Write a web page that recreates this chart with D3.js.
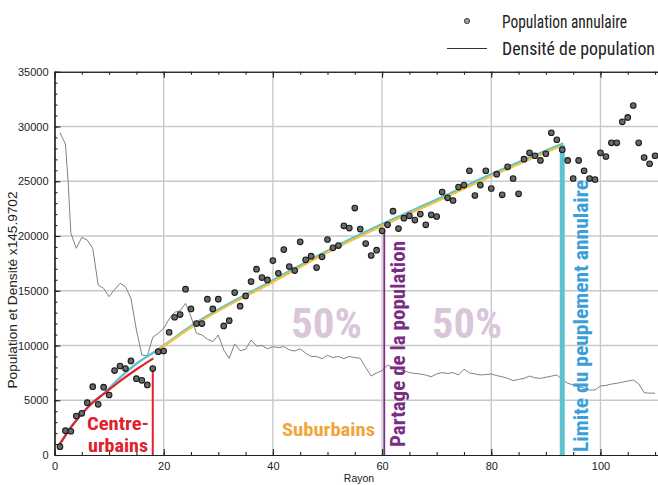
<!DOCTYPE html>
<html><head><meta charset="utf-8">
<script src="https://cdn.jsdelivr.net/npm/d3@7"></script>
<style>
body{margin:0;background:#fff;}
svg{display:block;}
</style>
</head><body>
<svg id="chart" width="658" height="485"></svg>
<script>
// ---------- DATA ----------
const popX = d3.range(1, 111);
const popV = [760,2220,2170,3560,3810,4780,6240,4630,6190,5480,
7710,8130,7890,8590,6970,6820,6400,7890,9440,9500,
11210,12580,12820,15140,13340,12000,12000,14230,13340,14230,
11790,12270,14830,13590,14530,15840,16970,16200,15990,17760,
16600,18760,17210,16840,19470,17820,18160,17120,18100,19680,
18920,19130,20930,20720,22550,20630,19310,18220,18710,20470,
21020,22270,20680,21630,21840,21450,22000,21020,21930,21780,
24010,23490,23240,24470,24650,25960,23700,24650,25960,24340,
25650,23760,26320,25250,23850,27020,27600,27330,26900,27510,
29430,28790,27880,26900,25250,26900,25960,25250,25160,27600,
27260,28510,28510,30430,30830,31920,28510,27170,26600,27330];

const densX = [1,2,2.5,3,4,5,6,7,8,9,10,11,12,13,14,15,16,17,18,19,20,21,22,23,24,25,26,27,28,29,30,
31,32,33,34,35,36,37,38,39,40,41,42,43,44,45,46,47,48,49,50,51,52,53,54,55,56,57,58,59,60,
61,62,63,64,65,66,67,68,69,70,71,72,73,74,75,76,77,78,79,80,81,82,83,84,85,86,87,88,89,90,
91,92,93,94,95,96,97,98,99,100,101,102,103,104,105,106,107,108,109,110];
const densV = [29440,28400,24960,20250,18880,19880,19630,18880,15530,15220,14460,15100,15680,15370,14310,11420,9130,9040,10750,11120,11570,12420,13030,13180,13850,12630,11120,10960,10570,10350,10960,
9590,8830,10140,9530,9650,10500,9950,10000,9700,9900,9800,9900,9600,9500,9700,9300,9000,9000,8800,9100,8900,9000,8800,9000,8900,8830,8000,7210,7500,7700,
8220,8000,7830,7700,7520,7450,7400,7300,7150,7400,7520,7450,7520,7310,7830,7500,7400,7310,7350,7400,7250,7150,7000,6790,6900,7000,7210,7050,7000,7100,
7200,7310,6910,6550,6400,6240,6100,5940,5940,6300,6350,6480,6550,6650,6750,6850,6500,5690,5650,5640];

const redFitX = [0.7,3.1,6.2,9.2,12.3,15.3,18.1];
const redFitV = [760,2590,4410,5640,6850,7920,8830];
const cyanFitX = [0.7,3.1,6.2,9.2,12.3,15.3,18.7,25.7,40.1,52.3,60,70.6,79.8,93.2];
const cyanFitV = [780,2600,4430,5700,7200,8450,9550,12000,15980,19250,21090,23460,25600,28460];
const yellowFitX = [18.7,25.7,40.1,52.3,60,70.6,79.8,93.2];
const yellowFitV = [9450,11870,15830,19090,20920,23290,25420,28310];

const markers = [
  {name:"centre", x:18, top:7950},
  {name:"partage", x:60.4, top:20550},
  {name:"limite", x:93, top:28310}
];

const xTicks = [0,20,40,60,80,100];
const yTicks = [0,5000,10000,15000,20000,25000,30000,35000];

// ---------- SCALES ----------
const svg = d3.select("#chart");
const x = d3.scaleLinear().domain([0,110.5]).range([54.5,657.8]);
const y = d3.scaleLinear().domain([0,35000]).range([455,71.75]);

const axisFont = "'Liberation Sans', Arial, Helvetica, sans-serif";
const condFont = "'Liberation Sans Narrow','Roboto Condensed','DejaVu Sans Condensed','Open Sans',sans-serif";

// grid
const grid = svg.append("g");
grid.selectAll(".gy").data(yTicks.filter(d=>d>0 && d<35000)).enter().append("line")
  .attr("x1", x(0)).attr("x2", 658).attr("y1", d=>y(d)).attr("y2", d=>y(d))
  .attr("stroke","#c9c9c9").attr("stroke-width",1.4);
grid.selectAll(".gx").data(xTicks.filter(d=>d>0)).enter().append("line")
  .attr("x1", d=>x(d)).attr("x2", d=>x(d)).attr("y1", y(0)).attr("y2", y(35000))
  .attr("stroke","#c9c9c9").attr("stroke-width",1.4);

// axes
function styleAxis(g){
  g.selectAll("path").attr("stroke","#222").attr("stroke-width",1.2);
  g.selectAll("line").attr("stroke","#222").attr("stroke-width",1.1);
  g.selectAll("text").attr("font-family",axisFont).attr("font-size","11px").attr("fill","#222");
}
const xMinor = d3.range(0,111,5);
const yMinor = d3.range(0,35001,1000);

svg.append("g").attr("transform",`translate(0,${y(0)})`)
  .call(d3.axisBottom(x).tickValues(xMinor).tickSizeInner(-3).tickSizeOuter(0).tickFormat(""))
  .call(styleAxis);
svg.append("g").attr("transform",`translate(0,${y(0)})`)
  .call(d3.axisBottom(x).tickValues(xTicks).tickSizeInner(-6).tickSizeOuter(0).tickPadding(7).tickFormat(d3.format("d")))
  .call(styleAxis);
svg.append("g").attr("transform",`translate(0,${y(35000)})`)
  .call(d3.axisTop(x).tickValues(xMinor).tickSizeInner(-3).tickSizeOuter(0).tickFormat(""))
  .call(styleAxis);
svg.append("g").attr("transform",`translate(0,${y(35000)})`)
  .call(d3.axisTop(x).tickValues(xTicks).tickSizeInner(-6).tickSizeOuter(0).tickFormat(""))
  .call(styleAxis);
svg.append("g").attr("transform",`translate(${x(0)},0)`)
  .call(d3.axisLeft(y).tickValues(yMinor).tickSizeInner(-3).tickSizeOuter(0).tickFormat(""))
  .call(styleAxis);
svg.append("g").attr("transform",`translate(${x(0)},0)`)
  .call(d3.axisLeft(y).tickValues(yTicks).tickSizeInner(-6).tickSizeOuter(0).tickPadding(6).tickFormat(d3.format("d")))
  .call(styleAxis);

// axis titles
svg.append("text").attr("x",359).attr("y",482).attr("text-anchor","middle")
  .attr("font-family",axisFont).attr("font-size","10.5px").attr("fill","#222").text("Rayon");
svg.append("text").attr("transform","translate(16.5,290) rotate(-90)").attr("text-anchor","middle")
  .attr("font-family",axisFont).attr("font-size","12px").attr("fill","#222")
  .attr("textLength",197).attr("lengthAdjust","spacingAndGlyphs")
  .text("Population et Densité x145.9702");

// density line
const densData = densX.map((d,i)=>[d,densV[i]]);
svg.append("path").datum(densData)
  .attr("d", d3.line().x(d=>x(d[0])).y(d=>y(d[1])))
  .attr("fill","none").attr("stroke","#808080").attr("stroke-width",1);

// fit curves
const fitLine = d3.line().x(d=>x(d[0])).y(d=>y(d[1])).curve(d3.curveMonotoneX);
svg.append("path").datum(cyanFitX.map((d,i)=>[d,cyanFitV[i]]))
  .attr("d",fitLine).attr("fill","none").attr("stroke","#5cc3cf").attr("stroke-width",2.4);
svg.append("path").datum(yellowFitX.map((d,i)=>[d,yellowFitV[i]]))
  .attr("d",fitLine).attr("fill","none").attr("stroke","#f6c23c").attr("stroke-width",2.2);
svg.append("path").datum(redFitX.map((d,i)=>[d,redFitV[i]]))
  .attr("d",fitLine).attr("fill","none").attr("stroke","#e3222c").attr("stroke-width",2.2);

// vertical markers
const mColor = {centre:"#e3222c", partage:"#7b2c83", limite:"#5cc3cf"};
const mWidth = {centre:2, partage:1.8, limite:5};
svg.selectAll(".mk").data(markers).enter().append("line")
  .attr("x1",d=>x(d.x)).attr("x2",d=>x(d.x)).attr("y1",y(0)).attr("y2",d=>y(d.top))
  .attr("stroke",d=>mColor[d.name]).attr("stroke-width",d=>mWidth[d.name]);

// points
svg.selectAll(".pt").data(popX.map((d,i)=>[d,popV[i]])).enter().append("circle")
  .attr("cx",d=>x(d[0])).attr("cy",d=>y(d[1])).attr("r",2.8)
  .attr("fill","#6a6a6a").attr("stroke","#1a1a1a").attr("stroke-width",1.1);

// labels
function lab(t, px, py, size, color, len, rot){
  const el = svg.append("text").attr("font-family",condFont).attr("font-weight","bold")
    .attr("font-size",size+"px").attr("fill",color).text(t);
  if(rot){ el.attr("transform",`translate(${px},${py}) rotate(-90)`); }
  else { el.attr("x",px).attr("y",py); }
  if(len) el.attr("textLength",len).attr("lengthAdjust","spacingAndGlyphs");
  return el;
}
lab("Centre-", 87, 429.5, 18.5, "#e0202a", 62);
lab("urbains", 88, 452, 18.5, "#e0202a", 60);
lab("Suburbains", 282, 436, 19, "#f2a53a", 93);
lab("50%", 291, 338, 42, "#d9c6db", 71);
lab("50%", 432, 338, 42, "#d9c6db", 70);
lab("Partage de la population", 405, 447, 20, "#7b2c83", 206, true);
lab("Limite du peuplement annulaire", 587.5, 452, 20, "#3a9fd9", 272, true);

// legend
svg.append("circle").attr("cx",467).attr("cy",21).attr("r",2.6)
  .attr("fill","#9a9a9a").attr("stroke","#444").attr("stroke-width",1);
svg.append("line").attr("x1",447).attr("x2",487).attr("y1",48.5).attr("y2",48.5)
  .attr("stroke","#333").attr("stroke-width",1);
svg.append("text").attr("x",502).attr("y",28).attr("font-family",condFont)
  .attr("font-size","17.5px").attr("fill","#222").attr("textLength",125).attr("lengthAdjust","spacingAndGlyphs")
  .text("Population annulaire");
svg.append("text").attr("x",502).attr("y",55).attr("font-family",condFont)
  .attr("font-size","17.5px").attr("fill","#222").attr("textLength",153).attr("lengthAdjust","spacingAndGlyphs")
  .text("Densité de population");
</script>
</body></html>
